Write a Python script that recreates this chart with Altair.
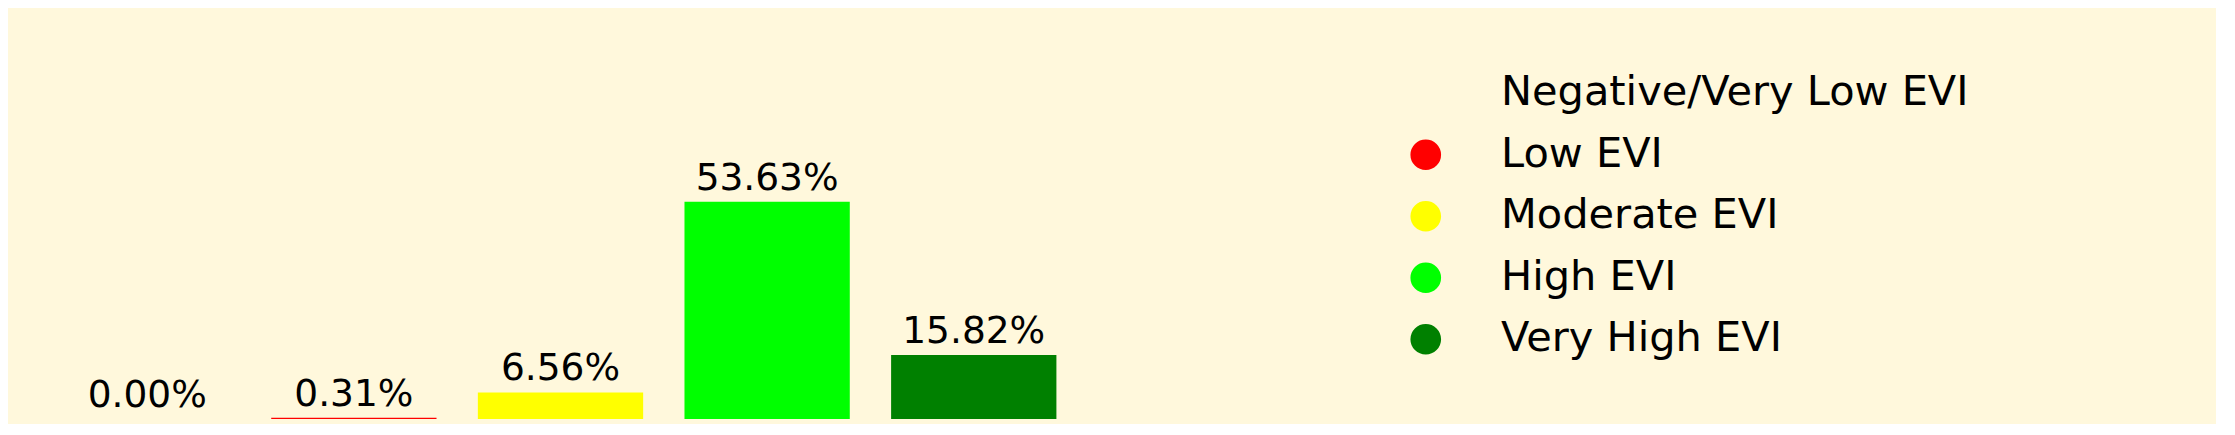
import altair as alt
import pandas as pd

categories = ["Negative/Very Low EVI", "Low EVI", "Moderate EVI", "High EVI", "Very High EVI"]
percentages = [0.00, 0.31, 6.56, 53.63, 15.82]
colors = ["transparent", "#FF0000", "#FFFF00", "#00FF00", "#008000"]

df = pd.DataFrame({"category": categories, "value": percentages})

x_enc = alt.X("category:N", sort=categories, axis=None,
              scale=alt.Scale(paddingInner=0.2, paddingOuter=0.24))
y_enc = alt.Y("value:Q", axis=None, scale=alt.Scale(domain=[0, 60], nice=False, zero=True))

bars = alt.Chart(df).mark_bar().encode(
    x=x_enc,
    y=y_enc,
    color=alt.Color(
        "category:N",
        sort=categories,
        scale=alt.Scale(domain=categories, range=colors),
        legend=alt.Legend(
            title=None,
            orient="none",
            legendX=1390,
            legendY=-103.5,
            symbolType="circle",
            symbolSize=940,
            symbolStrokeWidth=0,
            labelFontSize=41.5,
            labelFont="DejaVu Sans",
            labelColor="black",
            labelOffset=54.5,
            rowPadding=18.5,
            padding=0,
            labelLimit=900,
        ),
    ),
)

labels = alt.Chart(df).transform_calculate(
    label="format(datum.value, '.2f') + '%'"
).mark_text(
    baseline="alphabetic", dy=-12, fontSize=37.5, font="DejaVu Sans", color="black"
).encode(
    x=x_enc,
    y=y_enc,
    text="label:N",
)

chart = alt.layer(bars, labels).properties(
    width=1091,
    height=243,
    background="#FFF8DC",
    padding={"left": 7, "top": 168, "right": 1110, "bottom": 5},
    autosize=alt.AutoSizeParams(type="none"),
).configure_view(stroke=None)

chart.save("out.html", embed_options={"renderer": "svg", "actions": False})
